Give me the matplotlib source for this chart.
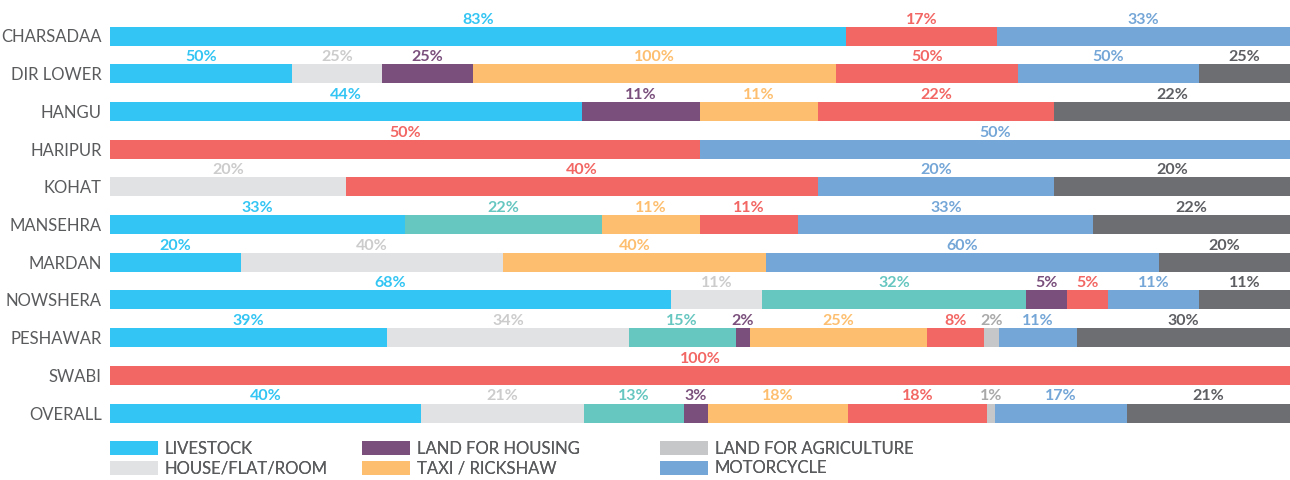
import numpy as np
import matplotlib.pyplot as plt

districts = ["CHARSADAA", "DIR LOWER", "HANGU", "HARIPUR", "KOHAT", "MANSEHRA",
             "MARDAN", "NOWSHERA", "PESHAWAR", "SWABI", "OVERALL"]

# values per series, in district order (percent of respondents)
livestock   = [83, 50, 44, 0, 0, 33, 20, 68, 39, 0, 40]
house_flat  = [0, 25, 0, 0, 20, 0, 40, 11, 34, 0, 21]
teal_item   = [0, 0, 0, 0, 0, 22, 0, 32, 15, 0, 13]
land_house  = [0, 25, 11, 0, 0, 0, 0, 5, 2, 0, 3]
taxi        = [0, 100, 11, 0, 0, 11, 40, 0, 25, 0, 18]
red_item    = [17, 50, 22, 50, 40, 11, 0, 5, 8, 100, 18]
land_agri   = [0, 0, 0, 0, 0, 0, 0, 0, 2, 0, 1]
motorcycle  = [33, 50, 0, 50, 20, 33, 60, 11, 11, 0, 17]
dark_item   = [0, 25, 22, 0, 20, 22, 20, 11, 30, 0, 21]

series = [livestock, house_flat, teal_item, land_house, taxi,
          red_item, land_agri, motorcycle, dark_item]
names = ["LIVESTOCK", "HOUSE/FLAT/ROOM", "", "LAND FOR HOUSING", "TAXI / RICKSHAW",
         "", "LAND FOR AGRICULTURE", "MOTORCYCLE", ""]
colors = ["#33c5f3", "#e1e2e3", "#66c6c0", "#7a4f7c", "#fdbf6f",
          "#f26764", "#c6c7c9", "#74a6d7", "#6d6e72"]
text_colors = ["#33c5f3", "#cccccc", "#66c6c0", "#7a4f7c", "#fdbf6f",
               "#f26764", "#a9a9aa", "#74a6d7", "#5d5e62"]

plt.rcParams['font.family'] = ['Lato', 'DejaVu Sans']

fig = plt.figure(figsize=(12.9, 4.8), dpi=100)
ax = fig.add_axes([110 / 1290, 0, 1180 / 1290, 1])

data = np.array(series, dtype=float)
totals = data.sum(axis=0)
shares = data / totals

pitch = 37.7
y = np.arange(len(districts))
left = np.zeros(len(districts))
bars = []
for vals, share, c, tc in zip(data, shares, colors, text_colors):
    b = ax.barh(y, share, left=left, height=19 / pitch, color=c)
    bars.append(b)
    for i in range(len(districts)):
        if vals[i] > 0:
            ax.text(left[i] + share[i] / 2, y[i] - 16.5 / pitch, f"{vals[i]:.0f}%",
                    ha='center', va='center', color=tc, fontsize=11.5,
                    fontweight='bold')
    left += share

ax.set_xlim(0, 1)
ax.set_ylim((480 - 36) / pitch, -36 / pitch)
ax.set_yticks(y)
ax.set_yticklabels(districts, fontsize=12, color="#5a5b5d")
ax.tick_params(axis='y', length=0, pad=6)
ax.set_xticks([])
for s in ax.spines.values():
    s.set_visible(False)

# legend in three columns
cols = [(0, 1, 110), (3, 4, 362), (6, 7, 660)]
for a, b, xpos in cols:
    leg = fig.legend([bars[a], bars[b]], [names[a], names[b]],
                     loc='upper left', bbox_to_anchor=(xpos / 1290, 1 - 441 / 480),
                     frameon=False, fontsize=12, handlelength=2.9, handleheight=0.9,
                     handletextpad=0.4, labelspacing=0.2, borderpad=0, borderaxespad=0)
    for t in leg.get_texts():
        t.set_color("#5a5b5d")
    fig.add_artist(leg)

fig.savefig("out.png", dpi=100)
